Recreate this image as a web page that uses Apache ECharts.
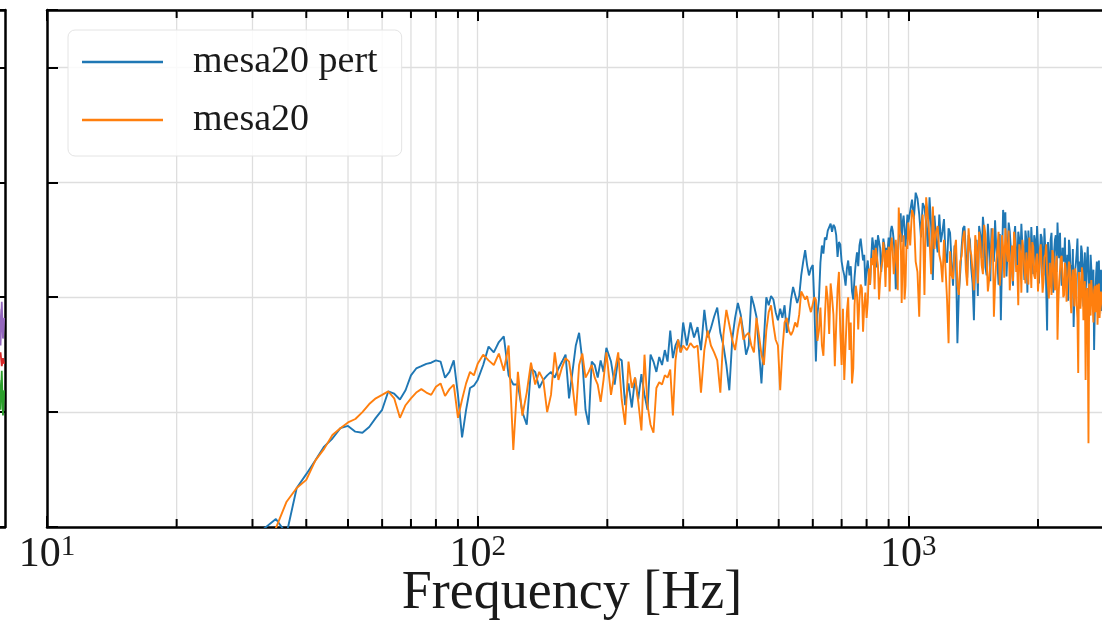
<!DOCTYPE html>
<html>
<head>
<meta charset="utf-8">
<script src="https://cdn.jsdelivr.net/npm/echarts@6/dist/echarts.min.js"></script>
<style>
  html, body { margin: 0; padding: 0; background: #ffffff; }
  #chart { width: 1102px; height: 621px; }
</style>
</head>
<body>
<div id="chart"></div>
<script>
// Frequency bins (Hz) shared by both spectra
const freqHz = [
  28, 30, 32, 34, 36, 38, 40, 42, 44, 46, 48, 50, 52, 54, 56, 58, 60, 62, 64, 66,
  68, 70, 72, 74, 76, 78, 80, 82, 84, 86, 88, 90, 92, 94, 96, 98, 100,
  103, 106, 109, 112, 115, 118, 121, 124, 127, 130, 133, 136, 139, 142, 145, 148, 151, 154, 157,
  160, 163, 166, 169, 172, 175, 178, 181, 184, 187, 190, 193, 196, 199,
  204, 208, 212, 216, 220, 224, 228, 232, 236, 240, 244, 248, 252, 256, 260, 264, 268, 272, 276, 280,
  284, 288, 292, 296, 300,
  306, 312, 318, 324, 330, 336, 342, 348, 354, 360, 366, 372, 378, 384, 390, 396, 402, 408, 414, 420,
  426, 432, 438, 444, 450, 456, 462, 468, 474, 480, 486, 492, 498, 504, 510, 516, 522, 528, 534, 540,
  546, 552, 558, 564, 570, 576, 582, 588, 594, 600,
  610, 620, 630, 640, 650, 660, 670, 680, 690, 700, 710, 720, 730, 740, 750, 760, 770, 780, 790, 800,
  810, 820, 830, 840, 850, 860, 870, 880, 890, 900, 910, 920, 930, 940, 950, 960, 970, 980, 990, 1000,
  1020, 1040, 1060, 1080, 1100, 1120, 1140, 1160, 1180, 1200, 1220, 1240, 1260, 1280, 1300, 1320,
  1340, 1360, 1380, 1400, 1420, 1440, 1460, 1480, 1500, 1520, 1540, 1560, 1580, 1600, 1620, 1640,
  1660, 1680, 1700, 1720, 1740, 1760, 1780, 1800, 1820, 1840, 1860, 1880, 1900, 1920, 1940, 1960,
  1980, 2000, 2020, 2040, 2060, 2080, 2100, 2120, 2140, 2160, 2180, 2200, 2220, 2240, 2260, 2280,
  2300, 2320, 2340, 2360, 2380, 2400, 2420, 2440, 2460, 2480, 2500, 2520, 2540, 2560, 2580, 2600,
  2620, 2640, 2660, 2680, 2700, 2720, 2740, 2760, 2780, 2800, 2820, 2840, 2860
];

// mesa20 pert spectrum on freqHz
const pertPower = [
  -53, -51.5, -50.1, -49.3, -50.6, -46.6, -45.4, -44.2, -43.0, -42.3, -41.4, -41.2, -41.7, -41.8, -41.3, -40.5, -39.8, -38.2, -38.4, -38.9,
  -38.1, -36.8, -36.2, -36.0, -35.8, -35.7, -35.5, -35.6, -37.0, -36.5, -35.5, -38.5, -42.2, -39.8, -37.9, -37.7, -37.2,
  -35.9, -34.3, -34.8, -33.9, -33.4, -36.8, -37.6, -37.6, -40.0, -41.1, -36.2, -36.5, -37.9, -37.2, -36.8, -36.5, -37.0, -36.2, -35.6,
  -35.0, -38.8, -36.5, -34.2, -33.1, -35.5, -39.8, -41.1, -35.6, -35.9, -37.0, -35.5, -36.5, -34.4,
  -35.6, -37.6, -35.3, -35.5, -39.4, -37.5, -39.6, -37.0, -38.9, -36.7, -38.5, -39.8, -35.0, -35.6, -36.5, -35.2, -35.9, -34.6, -35.6, -32.9,
  -35.3, -34.2, -33.7, -34.8, -32.2,
  -34.2, -32.2, -33.5, -32.6, -34.6, -31.1, -33.5, -32.7, -31.7, -30.9, -33.1, -34.2, -35.9, -38.1, -33.7, -31.8, -30.5, -31.5, -33.1, -35.0,
  -34.2, -29.9, -30.7, -31.7, -34.6, -37.5, -33.7, -30.0, -30.7, -29.9, -30.2, -31.3, -32.0, -31.0, -31.8, -30.7, -33.1, -32.0, -30.2, -29.1,
  -29.8, -30.5, -29.9, -28.1, -26.9, -25.9, -27.2, -28.1, -27.5, -27.2,
  -35.6, -30.2, -25.5, -24.8, -24.2, -23.6, -23.7, -24.6, -25.2, -26.9, -28.1, -27.5, -28.1, -29.5, -28.3, -26.1, -25.5, -25.0, -26.3, -27.6,
  -28.3, -26.6, -25.6, -25.0, -24.6, -25.7, -26.6, -25.5, -25.7, -24.8, -24.3, -24.2, -26.3, -28.3, -25.0, -22.7, -23.5, -24.0, -24.3, -23.5,
  -21.5, -20.9, -22.8, -21.8, -23.5, -21.3, -28.5, -25.0, -22.8, -24.3, -26.3, -24.0, -26.9, -25.5, -34.0, -27.8,
  -24.0, -26.1, -24.6, -27.5, -32.0, -25.0, -23.8, -26.6, -24.3, -28.1, -25.4, -24.0, -26.9, -25.7, -28.9, -32.0,
  -22.4, -22.6, -25.9, -24.3, -27.5, -24.8, -26.3, -24.3, -26.9, -25.5, -28.5, -25.0, -24.2, -27.2, -25.7, -24.6,
  -27.8, -25.5, -26.6, -24.8, -28.1, -25.9, -32.9, -26.9, -25.0, -27.5, -26.1, -24.6, -23.5, -26.6, -27.6, -25.7,
  -26.9, -28.9, -26.3, -25.0, -27.5, -29.4, -32.6, -27.6, -26.1, -28.1, -26.9, -25.5, -28.5, -27.2, -29.5, -26.6,
  -27.8, -30.2, -27.5, -28.9, -34.6, -29.4, -26.9, -28.5, -30.1, -27.6, -29.2, -29.8, -28.5
];

// mesa20 spectrum on freqHz
const basePower = [
  -54, -53, -51.5, -50.1, -47.8, -46.6, -45.9, -44.2, -43.2, -42.0, -41.4, -40.9, -40.6, -40.0, -39.3, -38.8, -38.5, -38.2, -38.8, -40.5,
  -39.4, -38.8, -38.3, -38.0, -38.3, -38.5, -37.8, -37.5, -38.6, -38.0, -37.6, -40.5, -38.9, -37.5, -36.5, -36.8, -35.8,
  -35.0, -35.5, -35.9, -34.9, -36.4, -34.2, -43.3, -36.5, -40.3, -38.3, -35.7, -37.6, -36.5, -37.2, -40.0, -38.5, -34.8, -37.2, -36.1,
  -35.3, -35.6, -37.6, -40.3, -35.9, -34.9, -37.0, -36.5, -35.9, -37.0, -37.6, -39.1, -37.2, -34.8,
  -38.5, -36.5, -34.8, -38.9, -41.1, -35.6, -37.9, -37.0, -39.1, -41.6, -35.0, -39.4, -41.1, -41.8, -37.9, -37.4, -37.6, -36.8, -37.0, -36.3,
  -40.3, -35.5, -33.7, -34.8, -34.2,
  -34.6, -34.0, -34.4, -34.2, -38.3, -34.6, -32.9, -34.2, -34.8, -35.5, -38.3, -33.3, -31.1, -32.4, -33.7, -34.6, -32.9, -31.7, -33.7, -33.3,
  -33.1, -34.2, -34.8, -31.8, -33.3, -35.0, -35.9, -32.9, -31.3, -30.7, -32.4, -33.7, -34.2, -38.1, -34.6, -32.2, -31.8, -32.9, -33.3, -32.9,
  -32.2, -32.6, -31.5, -29.5, -29.4, -30.2, -29.9, -30.7, -31.3, -31.4,
  -30.2, -32.9, -34.2, -31.8, -30.2, -28.8, -31.5, -32.4, -27.8, -35.9, -37.2, -31.3, -34.6, -37.5, -30.7, -29.8, -30.2, -29.2, -30.7, -31.8,
  -27.5, -26.6, -25.9, -25.7, -27.2, -28.5, -26.9, -26.2, -25.9, -25.6, -25.7, -26.1, -26.9, -26.6, -22.2, -24.6, -26.3, -30.2, -25.5, -23.5,
  -22.4, -26.9, -31.7, -22.8, -21.3, -25.0, -22.1, -24.3, -26.3, -28.7, -27.5, -34.0, -28.1, -25.9, -28.9, -26.9,
  -24.8, -27.6, -24.0, -26.3, -29.4, -25.7, -24.3, -27.2, -23.7, -26.6, -28.5, -25.5, -31.7, -26.9, -24.3, -27.6,
  -25.7, -24.0, -26.9, -29.4, -25.5, -24.3, -27.8, -30.7, -26.3, -25.0, -27.5, -26.1, -28.9, -26.6, -25.2, -28.1,
  -26.8, -29.5, -25.9, -27.5, -28.7, -26.3, -27.8, -30.1, -26.9, -25.9, -28.3, -27.2, -33.7, -28.7, -26.6, -28.1,
  -29.8, -27.5, -28.9, -26.9, -30.2, -28.3, -29.4, -27.5, -30.7, -36.6, -28.7, -29.8, -28.1, -31.1, -37.2, -29.2,
  -42.7, -30.1, -28.5, -30.7, -29.4, -31.3, -28.9, -30.2, -31.8, -29.5, -30.7, -30.1, -30.2
];

// Intermediate bins above 600 Hz, where the spectra are densely sampled
const freqHzFine = [
  605, 615, 625, 635, 645, 655, 665, 675, 685, 695, 705, 715, 725, 735, 745, 755, 765, 775, 785, 795,
  805, 815, 825, 835, 845, 855, 865, 875, 885, 895, 905, 915, 925, 935, 945, 955, 965, 975, 985, 995,
  1010, 1030, 1050, 1070, 1090, 1110, 1130, 1150, 1170, 1190, 1210, 1230, 1250, 1270, 1290, 1310,
  1330, 1350, 1370, 1390, 1410, 1430, 1450, 1470, 1490, 1510, 1530, 1550, 1570, 1590, 1610, 1630,
  1650, 1670, 1690, 1710, 1730, 1750, 1770, 1790, 1810, 1830, 1850, 1870, 1890, 1910, 1930, 1950,
  1970, 1990, 2010, 2030, 2050, 2070, 2090, 2110, 2130, 2150, 2170, 2190, 2210, 2230, 2250, 2270,
  2290, 2310, 2330, 2350, 2370, 2390, 2410, 2430, 2450, 2470, 2490, 2510, 2530, 2550, 2570, 2590,
  2610, 2630, 2650, 2670, 2690, 2710, 2730, 2750, 2770, 2790, 2810, 2830, 2850
];

const pertPowerFine = [
  -30.5, -31.5, -27.0, -26.2, -25.0, -23.9, -24.3, -23.9, -26.5, -25.4, -27.6, -29.0, -26.8, -27.3, -30.2, -27.0, -27.3, -24.9, -26.8, -29.0,
  -26.8, -28.9, -24.8, -26.5, -27.4, -24.5, -27.8, -24.9, -27.0, -26.0, -26.5, -23.8, -25.1, -29.3, -26.4, -24.0, -25.2, -22.9, -25.6, -22.8,
  -22.5, -23.2, -21.4, -24.8, -22.2, -25.6, -23.9, -22.9, -26.1, -25.2, -23.2, -27.0, -24.4, -29.0, -26.6, -29.7,
  -25.6, -23.8, -28.3, -25.0, -28.8, -26.4, -29.9, -24.6, -23.0, -27.4, -23.6, -28.6, -25.1, -23.3, -27.0, -24.5,
  -26.8, -24.0, -28.2, -23.5, -25.8, -29.0, -23.8, -27.4, -25.0, -23.6, -26.7, -24.2, -29.6, -25.8, -23.9, -28.0,
  -25.1, -23.8, -28.8, -24.5, -26.4, -24.0, -29.3, -25.2, -28.4, -24.4, -29.6, -25.0, -27.8, -25.6, -24.4, -29.0,
  -26.0, -24.8, -28.0, -30.3, -25.6, -27.2, -25.8, -29.8, -27.0, -24.9, -30.4, -27.8, -26.0, -30.8, -26.1, -28.4,
  -25.6, -31.2, -26.3, -29.8, -27.6, -31.0, -27.9, -30.5, -26.8, -28.0, -31.2, -27.6, -30.8
];

const basePowerFine = [
  -30.0, -33.8, -30.9, -35.1, -29.0, -33.2, -30.0, -36.0, -29.3, -33.0, -31.0, -34.2, -30.0, -32.2, -36.2, -29.0, -32.8, -28.9, -33.0, -29.6,
  -30.4, -28.9, -27.2, -29.3, -26.4, -30.2, -27.4, -25.2, -29.1, -27.4, -29.5, -24.8, -28.0, -25.0, -29.4, -24.2, -30.5, -24.6, -29.0, -25.8,
  -25.5, -23.0, -27.8, -24.2, -29.8, -23.0, -28.0, -25.8, -23.8, -27.0, -25.0, -30.2, -26.0, -28.4, -25.0, -29.8,
  -26.4, -24.2, -29.0, -25.8, -27.8, -24.6, -28.8, -25.2, -28.0, -24.5, -29.5, -27.0, -24.0, -28.8, -25.8, -29.0,
  -24.6, -28.3, -25.8, -24.2, -27.6, -28.6, -25.2, -27.2, -25.4, -29.6, -25.8, -28.8, -26.0, -24.8, -29.2, -25.6,
  -28.4, -26.2, -28.0, -25.4, -29.6, -26.5, -25.4, -29.0, -27.0, -29.8, -26.2, -29.4, -26.4, -30.5, -27.6, -26.4,
  -30.0, -27.0, -30.4, -28.0, -27.2, -31.4, -27.6, -30.8, -28.0, -31.8, -27.8, -31.0, -27.4, -32.0, -28.6, -30.2,
  -33.0, -28.8, -31.6, -28.4, -32.2, -29.0, -30.0, -32.4, -28.8, -30.6, -29.4, -31.5, -29.8
];

// Minor log-axis ticks (2..9 times each decade)
const minorTicksHz = [20, 30, 40, 50, 60, 70, 80, 90, 200, 300, 400, 500, 600, 700, 800, 900, 2000, 3000];

// Right edge of the neighbouring panel (its last few samples)
const leftPanelX = [98.6, 98.9, 99.2, 99.5, 99.8];
const leftPurple = [-31.0, -34.2, -30.4, -33.6, -31.8];
const leftRed = [-35.2, -34.8, -36.0, -35.3, -35.8];
const leftGreen = [-37.2, -39.8, -36.4, -40.3, -38.1];

const Y_MIN = -50, Y_MAX = -5;
const SERIF = "'Liberation Serif', 'DejaVu Serif', serif";
const INK = '#1a1a1a';
const GRID_GRAY = '#dedede';

const pairs = (xs, ys) => xs.map((x, i) => [x, ys[i]]);
// Coarse and intermediate bins merged into one frequency-ordered trace
const spectrum = (coarse, fine) =>
  pairs(freqHz, coarse).concat(pairs(freqHzFine, fine)).sort((a, b) => a[0] - b[0]);

function minorGridLines(params, api) {
  const f = api.value(0);
  const lo = api.coord([f, Y_MIN]);
  const hi = api.coord([f, Y_MAX]);
  return {
    type: 'line',
    shape: { x1: lo[0], y1: lo[1], x2: hi[0], y2: hi[1] },
    style: { stroke: GRID_GRAY, lineWidth: 1.3 }
  };
}

function minorTickMarks(params, api) {
  const f = api.value(0);
  const lo = api.coord([f, Y_MIN]);
  const hi = api.coord([f, Y_MAX]);
  return {
    type: 'group',
    children: [
      { type: 'line', shape: { x1: lo[0], y1: lo[1], x2: lo[0], y2: lo[1] - 8 },
        style: { stroke: '#000', lineWidth: 2 } },
      { type: 'line', shape: { x1: hi[0], y1: hi[1], x2: hi[0], y2: hi[1] + 8 },
        style: { stroke: '#000', lineWidth: 2 } }
    ]
  };
}

const chart = echarts.init(document.getElementById('chart'), null, { renderer: 'canvas' });

const logAxisBase = {
  type: 'log',
  logBase: 10,
  min: 10,
  max: 10000,
  gridIndex: 0,
  axisLine: { show: true, onZero: false, lineStyle: { color: '#000', width: 2.5 } },
  axisTick: { show: true, inside: true, length: 11, lineStyle: { color: '#000', width: 2 } },
  minorTick: { show: false },
  splitLine: { show: false }
};

chart.setOption({
  animation: false,
  backgroundColor: '#ffffff',
  grid: [
    { left: 47, top: 10, width: 1292, height: 517, outerBoundsMode: 'none', containLabel: false },
    { left: -400, top: 10, width: 405, height: 517, outerBoundsMode: 'none', containLabel: false }
  ],
  legend: {
    data: ['mesa20 pert', 'mesa20'],
    orient: 'vertical',
    left: 68,
    top: 30,
    icon: 'rect',
    itemWidth: 81,
    itemHeight: 2.5,
    itemGap: 18,
    padding: [12, 24, 16, 14],
    backgroundColor: 'rgba(255,255,255,0.85)',
    borderColor: '#e4e4e4',
    borderWidth: 1,
    borderRadius: 7,
    textStyle: {
      fontFamily: SERIF,
      fontSize: 38,
      color: INK,
      lineHeight: 40,
      padding: [0, 0, 0, 25]
    }
  },
  xAxis: [
    Object.assign({}, logAxisBase, {
      position: 'bottom',
      splitLine: { show: true, lineStyle: { color: GRID_GRAY, width: 1.3 } },
      axisLabel: {
        show: true,
        margin: 6,
        formatter: function (v) {
          const e = Math.round(Math.log10(v));
          return '{b|10}{s|' + e + '}';
        },
        rich: {
          b: { fontFamily: SERIF, fontSize: 42, lineHeight: 44, color: INK },
          s: { fontFamily: SERIF, fontSize: 29, lineHeight: 29, color: INK, verticalAlign: 'top' }
        }
      }
    }),
    Object.assign({}, logAxisBase, {
      position: 'top',
      axisLabel: { show: false }
    }),
    {
      type: 'value', gridIndex: 1, min: 0, max: 100, position: 'bottom',
      axisLine: { show: true, onZero: false, lineStyle: { color: '#000', width: 2.5 } },
      axisTick: { show: false }, axisLabel: { show: false }, splitLine: { show: false }
    },
    {
      type: 'value', gridIndex: 1, min: 0, max: 100, position: 'top',
      axisLine: { show: true, onZero: false, lineStyle: { color: '#000', width: 2.5 } },
      axisTick: { show: false }, axisLabel: { show: false }, splitLine: { show: false }
    }
  ],
  yAxis: [
    {
      type: 'value', gridIndex: 0, min: Y_MIN, max: Y_MAX, interval: 10, position: 'left',
      axisLine: { show: true, onZero: false, lineStyle: { color: '#000', width: 2.5 } },
      axisTick: { show: true, inside: true, length: 11, lineStyle: { color: '#000', width: 2 } },
      axisLabel: { show: false },
      splitLine: { show: true, lineStyle: { color: GRID_GRAY, width: 1.3 } }
    },
    {
      type: 'value', gridIndex: 1, min: Y_MIN, max: Y_MAX, interval: 10, position: 'right',
      axisLine: { show: true, onZero: false, lineStyle: { color: '#000', width: 2.5 } },
      axisTick: { show: true, inside: true, length: 11, lineStyle: { color: '#000', width: 2 } },
      axisLabel: { show: false },
      splitLine: { show: false }
    }
  ],
  graphic: [
    {
      type: 'text',
      x: 572,
      y: 594,
      style: {
        text: 'Frequency [Hz]',
        fontFamily: SERIF,
        fontSize: 54,
        fill: INK,
        align: 'center',
        verticalAlign: 'middle'
      }
    }
  ],
  series: [
    {
      type: 'custom', name: 'minor-grid', xAxisIndex: 0, yAxisIndex: 0, z: 1,
      silent: true, renderItem: minorGridLines,
      data: minorTicksHz.map(f => [f, Y_MIN])
    },
    {
      name: 'mesa20 pert', type: 'line', xAxisIndex: 0, yAxisIndex: 0,
      data: spectrum(pertPower, pertPowerFine),
      showSymbol: false, symbol: 'none', clip: true, z: 3,
      color: '#1f77b4',
      lineStyle: { color: '#1f77b4', width: 1.9 }
    },
    {
      name: 'mesa20', type: 'line', xAxisIndex: 0, yAxisIndex: 0,
      data: spectrum(basePower, basePowerFine),
      showSymbol: false, symbol: 'none', clip: true, z: 4,
      color: '#ff7f0e',
      lineStyle: { color: '#ff7f0e', width: 1.9 }
    },
    {
      type: 'custom', name: 'minor-ticks', xAxisIndex: 0, yAxisIndex: 0, z: 6,
      silent: true, renderItem: minorTickMarks,
      data: minorTicksHz.map(f => [f, Y_MIN])
    },
    {
      name: 'left-purple', type: 'line', xAxisIndex: 2, yAxisIndex: 1,
      data: pairs(leftPanelX, leftPurple), symbol: 'none', clip: true,
      lineStyle: { color: '#9467bd', width: 1.8 }
    },
    {
      name: 'left-red', type: 'line', xAxisIndex: 2, yAxisIndex: 1,
      data: pairs(leftPanelX, leftRed), symbol: 'none', clip: true,
      lineStyle: { color: '#d62728', width: 1.8 }
    },
    {
      name: 'left-green', type: 'line', xAxisIndex: 2, yAxisIndex: 1,
      data: pairs(leftPanelX, leftGreen), symbol: 'none', clip: true,
      lineStyle: { color: '#2ca02c', width: 1.8 }
    }
  ]
});
</script>
</body>
</html>
